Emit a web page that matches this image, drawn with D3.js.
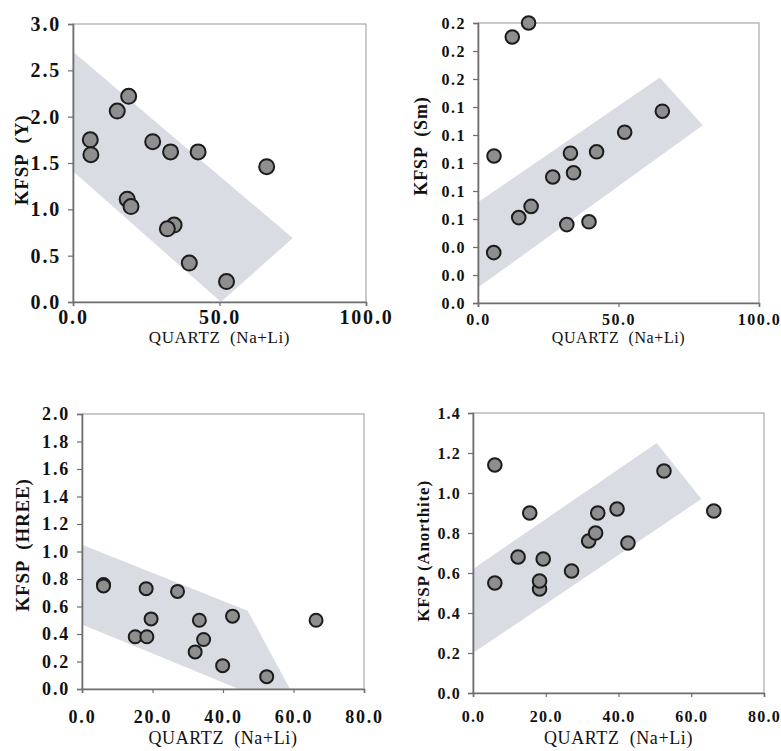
<!DOCTYPE html>
<html>
<head>
<meta charset="utf-8">
<script src="https://cdnjs.cloudflare.com/ajax/libs/d3/7.8.5/d3.min.js"></script>
<style>
    body { margin: 0; background: #fff; }
    svg text { font-family: "Liberation Serif", "Times New Roman", serif; fill: #111; }
    .tick text { font-weight: bold; }
</style>
</head>
<body>
<svg id="chart" width="781" height="751"></svg>
<script>
'use strict';

// panel 1 - KFSP (Y)
var quartzY = [5.9, 6.1, 15.1, 19.0, 27.2, 33.3, 42.7, 66.1, 18.5, 19.8, 34.5, 32.2, 39.7, 52.4];
var kfspY = [1.75, 1.59, 2.06, 2.22, 1.73, 1.62, 1.62, 1.46, 1.11, 1.03, 0.83, 0.79, 0.42, 0.22];
var bandY = [[0, 2.70], [75, 0.69], [50.5, 0], [0, 1.41]];

// panel 2 - KFSP (Sm)
var quartzSm = [18.0, 12.2, 5.7, 5.6, 14.5, 18.9, 26.6, 31.6, 32.9, 34.0, 39.5, 42.2, 52.2, 65.6];
var kfspSm = [0.200, 0.190, 0.105, 0.036, 0.061, 0.069, 0.090, 0.056, 0.107, 0.093, 0.058, 0.108, 0.122, 0.137];
var bandSm = [[0, 0.072], [64.7, 0.161], [80, 0.127], [0, 0.011]];

// panel 3 - KFSP (HREE)
var quartzHREE = [6.1, 6.1, 18.2, 27.1, 19.6, 15.1, 18.4, 33.3, 42.7, 34.5, 32.1, 39.9, 52.4, 66.4];
var kfspHREE = [0.76, 0.75, 0.73, 0.71, 0.51, 0.38, 0.38, 0.50, 0.53, 0.36, 0.27, 0.17, 0.09, 0.50];
var bandHREE = [[0, 1.05], [47, 0.57], [59, 0], [44.5, 0], [0, 0.47]];

// panel 4 - KFSP (Anorthite)
var quartzAn = [6.0, 6.0, 12.4, 15.6, 18.3, 18.3, 19.3, 27.1, 31.8, 33.7, 34.3, 39.6, 42.6, 52.5, 66.2];
var kfspAn = [1.14, 0.55, 0.68, 0.90, 0.52, 0.56, 0.67, 0.61, 0.76, 0.80, 0.90, 0.92, 0.75, 1.11, 0.91];
var bandAn = [[0, 0.62], [50.5, 1.25], [62.8, 0.97], [0, 0.20]];

// tick values
var xTicksTop = [0, 50, 100];
var xTicksBottom = [0, 20, 40, 60, 80];
var yTicksY = [0, 0.5, 1.0, 1.5, 2.0, 2.5, 3.0];
var yTicksSm = [0, 0.02, 0.04, 0.06, 0.08, 0.10, 0.12, 0.14, 0.16, 0.18, 0.20];
var yTicksHREE = [0, 0.2, 0.4, 0.6, 0.8, 1.0, 1.2, 1.4, 1.6, 1.8, 2.0];
var yTicksAn = [0, 0.2, 0.4, 0.6, 0.8, 1.0, 1.2, 1.4];

var xTitle = "QUARTZ  (Na+Li)";

var svg = d3.select("#chart");
var fmt = d3.format(".1f");

var panels = [
    {
        xs: quartzY, ys: kfspY, band: bandY, xTicks: xTicksTop, yTicks: yTicksY,
        xMax: 100, yMax: 3, left: 73, right: 366, top: 24, bottom: 302,
        yTitle: "KFSP  (Y)", yTitleX: 24, yTitleY: 160, tickFont: 20, spacing: 1.8, titleFont: 19, r: 7.5,
        xPad: 4, xTitleY: 339, xTitleFont: 17
    },
    {
        xs: quartzSm, ys: kfspSm, band: bandSm, xTicks: xTicksTop, yTicks: yTicksSm,
        xMax: 100, yMax: 0.2, left: 478, right: 759, top: 23, bottom: 303,
        yTitle: "KFSP  (Sm)", yTitleX: 423, yTitleY: 146, tickFont: 16, spacing: 1.5, titleFont: 18, r: 6.8,
        xPad: 7, xTitleY: 339, xTitleFont: 16
    },
    {
        xs: quartzHREE, ys: kfspHREE, band: bandHREE, xTicks: xTicksBottom, yTicks: yTicksHREE,
        xMax: 80, yMax: 2, left: 82, right: 364, top: 414, bottom: 689,
        yTitle: "KFSP  (HREE)", yTitleX: 25, yTitleY: 545, tickFont: 18, spacing: 1.8, titleFont: 19, r: 6.5,
        xPad: 17, xTitleY: 740, xTitleFont: 18
    },
    {
        xs: quartzAn, ys: kfspAn, band: bandAn, xTicks: xTicksBottom, yTicks: yTicksAn,
        xMax: 80, yMax: 1.4, left: 473, right: 764, top: 413, bottom: 693,
        yTitle: "KFSP (Anorthite)", yTitleX: 425, yTitleY: 551, tickFont: 16, spacing: 1.2, titleFont: 17, r: 6.8,
        xPad: 14, xTitleY: 740, xTitleFont: 18
    }
];

panels.forEach(function (p) {
    var x = d3.scaleLinear().domain([0, p.xMax]).range([p.left, p.right]);
    var y = d3.scaleLinear().domain([0, p.yMax]).range([p.bottom, p.top]);
    var g = svg.append("g");

    // shaded trend band
    var line = d3.line()
        .x(function (d) { return x(d[0]); })
        .y(function (d) { return y(d[1]); });
    g.append("path")
        .attr("d", line(p.band) + "Z")
        .attr("fill", "#d9dce3");

    // plot frame
    g.append("rect")
        .attr("x", p.left).attr("y", p.top)
        .attr("width", p.right - p.left).attr("height", p.bottom - p.top)
        .attr("fill", "none")
        .attr("stroke", "#a8a8a8")
        .attr("stroke-width", 1.2);

    var xAxis = g.append("g")
        .attr("transform", "translate(0," + p.bottom + ")")
        .call(d3.axisBottom(x).tickValues(p.xTicks).tickFormat(fmt).tickSize(4).tickPadding(p.xPad));
    var yAxis = g.append("g")
        .attr("transform", "translate(" + p.left + ",0)")
        .call(d3.axisLeft(y).tickValues(p.yTicks).tickFormat(fmt).tickSize(5).tickPadding(7));

    [xAxis, yAxis].forEach(function (a) {
        a.attr("font-family", null).attr("font-size", null);
        a.select(".domain").attr("stroke", "#6e6e6e").attr("stroke-width", 1.6);
        a.selectAll(".tick line").attr("stroke", "#6e6e6e").attr("stroke-width", 1.2);
        a.selectAll(".tick text")
            .attr("font-weight", "bold")
            .style("font-size", p.tickFont + "px")
            .style("letter-spacing", p.spacing + "px")
            .attr("fill", "#111");
    });

    // data points
    g.selectAll("circle")
        .data(p.xs.map(function (v, i) { return [v, p.ys[i]]; }))
        .enter().append("circle")
        .attr("cx", function (d) { return x(d[0]); })
        .attr("cy", function (d) { return y(d[1]); })
        .attr("r", p.r)
        .attr("fill", "#8e8e8e")
        .attr("stroke", "#1c1c1c")
        .attr("stroke-width", 2);

    // axis titles
    g.append("text")
        .attr("x", (p.left + p.right) / 2)
        .attr("y", p.xTitleY)
        .attr("text-anchor", "middle")
        .attr("dominant-baseline", "middle")
        .style("white-space", "pre")
        .style("font-size", p.xTitleFont + "px")
        .style("letter-spacing", "0.6px")
        .text(xTitle);

    g.append("text")
        .attr("transform", "translate(" + p.yTitleX + "," + p.yTitleY + ") rotate(-90)")
        .attr("text-anchor", "middle")
        .attr("dominant-baseline", "middle")
        .style("white-space", "pre")
        .style("font-weight", "bold")
        .style("font-size", p.titleFont + "px")
        .style("letter-spacing", "0.8px")
        .text(p.yTitle);
});
</script>
</body>
</html>
